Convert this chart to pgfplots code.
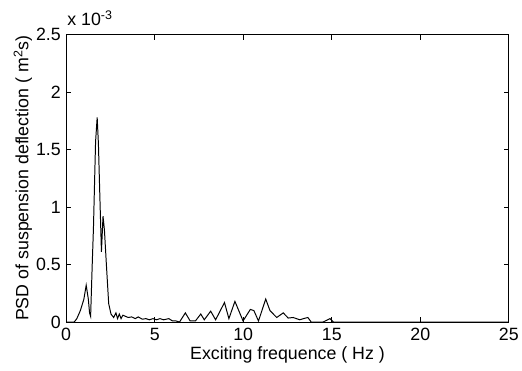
\documentclass[border=0pt]{standalone}
\usepackage{fontspec}
\setmainfont{Liberation Sans}
\usepackage{pgfplots}
\pgfplotsset{compat=1.18}
\begin{document}
\begin{tikzpicture}[font=\fontsize{18}{21}\selectfont]
\begin{axis}[
  scale only axis,
  clip=false,
  width=448pt, height=291pt,
  xmin=0, xmax=25, ymin=0, ymax=2.5,
  xtick={0,5,10,15,20,25},
  ytick={0,0.5,1,1.5,2,2.5},
  yticklabels={0,0.5,1,1.5,2,2.5},
  xticklabels={0,5,10,15,20,25},
  tick align=inside,
  major tick length=5pt,
  tick style={black, line width=0.8pt},
  axis line style={black, line width=1pt},
  xlabel={Exciting frequence ( Hz )},
  ylabel={PSD of suspension deflection ( m\textsuperscript{2}s)},
  xlabel style={yshift=1pt},
  ylabel style={yshift=-3pt},
  xticklabel style={yshift=-3pt},
  yticklabel style={xshift=-2pt},
]
\addplot[black, line width=1pt, sharp plot] coordinates {
(0,0) (0.45,0) (0.6,0.03) (0.8,0.1) (1.0,0.2) (1.13,0.32) (1.25,0.2) (1.32,0.08)
(1.38,0.05) (1.47,0.5) (1.54,0.82) (1.6,1.2) (1.66,1.57) (1.75,1.78) (1.82,1.55)
(1.9,1.1) (1.99,0.61) (2.08,0.92) (2.16,0.8) (2.27,0.5) (2.4,0.16) (2.53,0.07)
(2.68,0.04) (2.81,0.08) (2.9,0.03) (3.0,0.07) (3.1,0.03) (3.2,0.06) (3.35,0.05)
(3.5,0.04) (3.7,0.045) (3.9,0.03) (4.07,0.045) (4.3,0.025) (4.5,0.03) (4.7,0.02)
(4.9,0.03) (5.1,0.02) (5.3,0.03) (5.5,0.02) (5.8,0.03) (6.0,0.01) (6.2,0.01)
(6.4,0.0) (6.73,0.08) (7.0,0.01) (7.3,0.01) (7.6,0.07) (7.8,0.02) (8.16,0.095)
(8.44,0.02) (8.94,0.17) (9.19,0.03) (9.53,0.18) (9.99,0.01) (10.4,0.11) (10.6,0.1)
(10.86,0.01) (11.27,0.2) (11.51,0.1) (11.89,0.04) (12.26,0.08) (12.54,0.035)
(12.82,0.04) (13.19,0.02) (13.4,0.03) (13.65,0.04) (13.84,0.0) (14.5,0) (14.9,0.03)
(15.1,0) (25,0)
};
\node[anchor=base west, inner sep=0pt] at (rel axis cs:0,1) [yshift=9pt, xshift=1pt] {x 10\textsuperscript{-3}};
\end{axis}
\path (current axis.south west) ++(-67pt,-49pt) rectangle ([shift={(7pt,35pt)}]current axis.north east);
\end{tikzpicture}
\end{document}
